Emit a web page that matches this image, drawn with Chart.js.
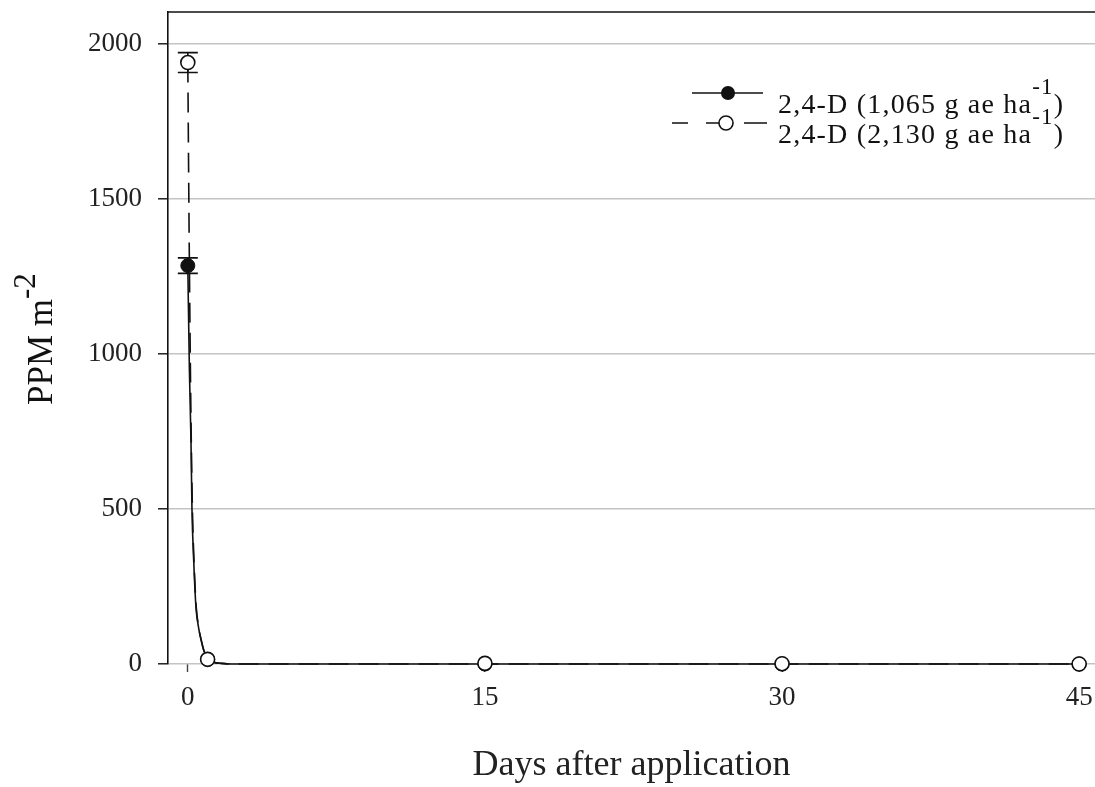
<!DOCTYPE html>
<html>
<head>
<meta charset="utf-8">
<script src="https://cdn.jsdelivr.net/npm/chart.js@4.4.1/dist/chart.umd.min.js"></script>
<style>
  html, body { margin: 0; padding: 0; background: #fff; overflow: hidden; }
  #wrap { width: 1095px; height: 787px; }
  canvas { display: block; }
</style>
</head>
<body>
<div id="wrap"><canvas id="chartPPM" width="1095" height="787"></canvas></div>
<script>
// ===== DONNEES =====
const jours = [0, 1, 15, 30, 45]
const ppmDose1 = [1285, 15, 0, 0, 0]      // 2,4-D 1,065 g ae/ha
const errDose1 = [25, 0, 0, 0, 0]
const ppmDose2 = [1940, 15, 2, 1, 0]      // 2,4-D 2,130 g ae/ha
const errDose2 = [32, 0, 0, 0, 0]

// courbes ajustees
const joursCourbe1 = [0, 0.08, 0.16, 0.21, 0.3, 0.41, 0.55, 0.67, 0.8, 1, 1.3, 1.7, 2.2, 45]
const ppmCourbe1 = [1285, 950, 720, 500, 330, 185, 115, 78, 45, 18, 6, 2, 0, 0]
const joursCourbe2 = [0, 0.04, 0.08, 0.14, 0.18, 0.23, 0.31, 0.42, 0.55, 0.67, 0.8, 1, 1.3, 1.7, 2.2, 45]
const ppmCourbe2 = [1940, 1600, 1290, 900, 700, 505, 335, 188, 117, 79, 46, 18, 6, 2, 0, 0]

const ticksX = [0, 15, 30, 45]
const ticksY = [0, 500, 1000, 1500, 2000]

const legende1 = ['2,4-D (1,065 g ae ha', '-1', ')']
const legende2 = ['2,4-D (2,130 g ae ha', '-1', ')']
const titreY = ['PPM m', '-2']
const titreX = 'Days after application'

const serif = '"Liberation Serif", "Times New Roman", serif'
const noir = '#111'

const pts = (xs, ys) => xs.map((x, i) => ({ x: x, y: ys[i] }))

// ===== BARRES D'ERREUR =====
const barresErreur = {
    id: 'barresErreur',
    beforeDatasetsDraw(chart) {
        const ctx = chart.ctx
        const sx = chart.scales.x, sy = chart.scales.y
        const series = [[ppmDose1, errDose1], [ppmDose2, errDose2]]
        ctx.save()
        ctx.strokeStyle = noir
        ctx.lineWidth = 1.6
        series.forEach(([vals, errs]) => {
            vals.forEach((v, i) => {
                if(!errs[i]) return
                const px = sx.getPixelForValue(jours[i])
                const hi = sy.getPixelForValue(v + errs[i])
                const lo = sy.getPixelForValue(v - errs[i])
                ctx.beginPath()
                ctx.moveTo(px, hi); ctx.lineTo(px, lo)
                ctx.moveTo(px - 10, hi); ctx.lineTo(px + 10, hi)
                ctx.moveTo(px - 10, lo); ctx.lineTo(px + 10, lo)
                ctx.stroke()
            })
        })
        ctx.restore()
    }
}

// texte avec exposant : [base, exposant, suite]
function texteExposant(ctx, parts, x, y, taille, tailleExp, montee, espace) {
    if('letterSpacing' in ctx) ctx.letterSpacing = espace + 'px'
    ctx.font = taille + 'px ' + serif
    ctx.fillText(parts[0], x, y)
    let cx = x + ctx.measureText(parts[0]).width
    ctx.font = tailleExp + 'px ' + serif
    ctx.fillText(parts[1], cx, y - montee)
    cx += ctx.measureText(parts[1]).width
    if(parts[2]) {
        ctx.font = taille + 'px ' + serif
        ctx.fillText(parts[2], cx, y)
    }
    if('letterSpacing' in ctx) ctx.letterSpacing = '0px'
}

// ===== CADRE, TITRE Y, LEGENDE =====
const decor = {
    id: 'decor',
    afterDraw(chart) {
        const ctx = chart.ctx
        const a = chart.chartArea
        ctx.save()
        // ligne du haut
        ctx.strokeStyle = noir
        ctx.lineWidth = 1.6
        ctx.beginPath()
        ctx.moveTo(a.left, a.top)
        ctx.lineTo(a.right, a.top)
        ctx.stroke()

        ctx.fillStyle = noir
        ctx.textBaseline = 'alphabetic'
        ctx.textAlign = 'left'

        // titre axe Y
        ctx.save()
        ctx.translate(52, 405)
        ctx.rotate(-Math.PI / 2)
        texteExposant(ctx, titreY, 0, 0, 35, 31, 17, 0)
        ctx.restore()

        // legende
        ctx.lineWidth = 1.6
        ctx.beginPath()
        ctx.moveTo(692, 93); ctx.lineTo(763, 93)
        ctx.stroke()
        ctx.beginPath()
        ctx.arc(728, 93, 7, 0, Math.PI * 2)
        ctx.fill()

        ctx.beginPath()
        ctx.moveTo(672, 123); ctx.lineTo(688, 123)
        ctx.moveTo(706, 123); ctx.lineTo(719, 123)
        ctx.moveTo(744, 123); ctx.lineTo(767, 123)
        ctx.stroke()
        ctx.beginPath()
        ctx.arc(726, 123, 7, 0, Math.PI * 2)
        ctx.fillStyle = '#fff'
        ctx.fill()
        ctx.stroke()

        ctx.fillStyle = noir
        texteExposant(ctx, legende1, 778, 113, 28, 23, 19, 1.2)
        texteExposant(ctx, legende2, 778, 143, 28, 23, 19, 1.2)
        ctx.restore()
    }
}

// ===== GRAPHIQUE =====
const ctxPPM = document.getElementById('chartPPM')
if(ctxPPM) {
    new Chart(ctxPPM, {
        type: 'scatter',
        data: {
            datasets: [
                {
                    label: legende2.join(''),
                    data: pts(jours, ppmDose2),
                    showLine: false,
                    pointRadius: 7,
                    pointBackgroundColor: '#fff',
                    pointBorderColor: noir,
                    pointBorderWidth: 1.6,
                    clip: false
                },
                {
                    label: legende1.join(''),
                    data: pts(jours, ppmDose1),
                    showLine: false,
                    pointRadius: 7,
                    pointBackgroundColor: noir,
                    pointBorderColor: noir,
                    pointBorderWidth: 1,
                    clip: false
                },
                {
                    label: 'courbe 1',
                    data: pts(joursCourbe1, ppmCourbe1),
                    showLine: true,
                    pointRadius: 0,
                    borderColor: noir,
                    borderWidth: 1.6,
                    cubicInterpolationMode: 'monotone',
                    clip: false
                },
                {
                    label: 'courbe 2',
                    data: pts(joursCourbe2, ppmCourbe2),
                    showLine: true,
                    pointRadius: 0,
                    borderColor: noir,
                    borderWidth: 1.6,
                    borderDash: [20, 10],
                    cubicInterpolationMode: 'monotone',
                    clip: false
                }
            ]
        },
        options: {
            responsive: false,
            animation: false,
            layout: { autoPadding: false, padding: { top: 12, right: 0, left: 0, bottom: 0 } },
            plugins: {
                legend: { display: false },
                tooltip: { enabled: false }
            },
            scales: {
                x: {
                    type: 'linear',
                    min: -1,
                    max: 45.8,
                    afterBuildTicks: s => { s.ticks = ticksX.map(v => ({ value: v })) },
                    afterFit: s => { s.height = 123; s.paddingLeft = 0; s.paddingRight = 0 },
                    grid: { drawOnChartArea: false, tickLength: 8, tickColor: '#444', tickWidth: 1.4 },
                    border: { display: false },
                    ticks: { font: { family: serif, size: 27 }, color: '#222', padding: 10, maxRotation: 0, callback: v => String(v) },
                    title: {
                        display: true,
                        text: titreX,
                        font: { family: serif, size: 36 },
                        color: '#222',
                        padding: { top: 0, bottom: 0 }
                    }
                },
                y: {
                    min: 0,
                    max: 2103,
                    afterBuildTicks: s => { s.ticks = ticksY.map(v => ({ value: v })) },
                    afterFit: s => { s.width = 168; s.paddingTop = 0; s.paddingBottom = 0 },
                    grid: { color: '#c4c4c4', lineWidth: 1.6, tickLength: 10, tickColor: noir, tickWidth: 1.4 },
                    border: { color: noir, width: 1.6 },
                    ticks: { font: { family: serif, size: 27 }, color: '#222', padding: 16, callback: v => String(v) }
                }
            }
        },
        plugins: [barresErreur, decor]
    })
}
</script>
</body>
</html>
